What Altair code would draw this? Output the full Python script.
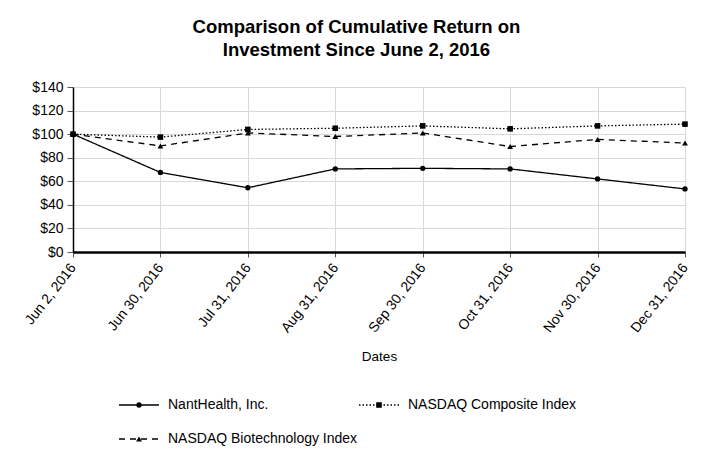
import altair as alt
import pandas as pd

dates = ["Jun 2, 2016", "Jun 30, 2016", "Jul 31, 2016", "Aug 31, 2016",
         "Sep 30, 2016", "Oct 31, 2016", "Nov 30, 2016", "Dec 31, 2016"]
series_names = ["NantHealth, Inc.", "NASDAQ Composite Index", "NASDAQ Biotechnology Index"]
nanthealth = [100, 67.5, 54.5, 70.5, 71.0, 70.5, 62.0, 53.5]
composite = [100, 97.5, 104.0, 105.0, 107.0, 104.5, 107.0, 108.5]
biotech = [100, 90.0, 101.0, 98.0, 101.0, 89.5, 95.5, 92.5]

rows = []
for name, vals in zip(series_names, [nanthealth, composite, biotech]):
    for d, v in zip(dates, vals):
        rows.append({"Date": d, "Series": name, "Value": v})
df = pd.DataFrame(rows)

FONT = "Liberation Sans"
dash_scale = alt.Scale(domain=series_names, range=[[1, 0], [1.5, 2], [6, 5]])
shape_scale = alt.Scale(domain=series_names, range=["circle", "square", "triangle-up"])
size_scale = alt.Scale(domain=series_names, range=[28, 34, 22])

x = alt.X("Date:O", sort=dates, title="Dates",
          scale=alt.Scale(type="point", padding=0),
          axis=alt.Axis(labelAngle=-52, labelFontSize=14, labelFont=FONT,
                        titleFont=FONT, titleFontSize=13.5, titleFontWeight="normal",
                        titlePadding=15, labelPadding=8,
                        domainColor="black", domainWidth=2.5,
                        tickColor="#555", tickSize=5,
                        grid=True, gridColor="#d9d9d9", labelColor="black"))
y = alt.Y("Value:Q", title=None,
          scale=alt.Scale(domain=[0, 140], nice=False),
          axis=alt.Axis(values=list(range(0, 141, 20)), labelExpr="'$' + datum.value",
                        labelFontSize=14, labelFont=FONT, labelColor="black",
                        domainColor="black", domainWidth=1.5,
                        tickColor="#555", tickSize=6, labelPadding=4,
                        gridColor="#d9d9d9"))

base = alt.Chart(df)
lines = base.mark_line(color="black", strokeWidth=1.3).encode(
    x=x, y=y,
    detail="Series:N",
    strokeDash=alt.StrokeDash("Series:N", scale=dash_scale, legend=None),
)
pts = base.mark_point(color="black", filled=True, opacity=1).encode(
    x=x, y=y,
    shape=alt.Shape("Series:N", scale=shape_scale, legend=None),
    size=alt.Size("Series:N", scale=size_scale, legend=None),
)
main = alt.layer(lines, pts).properties(width=612, height=165)

# legend chart
leg_df = pd.DataFrame({"Series": series_names, "idx": list(range(len(series_names)))})
leg_base = alt.Chart(leg_df).transform_calculate(
    row="floor(datum.idx / 2)",
    x0="46 + (datum.idx % 2) * 240",
    x1="86 + (datum.idx % 2) * 240",
    xm="66 + (datum.idx % 2) * 240",
    xt="95 + (datum.idx % 2) * 240",
)
lx = alt.Scale(domain=[0, 612])
ly = alt.Scale(domain=[0, 1], range=[3, 37])
leg_line = leg_base.mark_rule(color="black", strokeWidth=1.5).encode(
    x=alt.X("x0:Q", scale=lx, axis=None), x2="x1:Q",
    y=alt.Y("row:Q", scale=ly, axis=None),
    strokeDash=alt.StrokeDash("Series:N", scale=dash_scale, legend=None),
)
leg_pt = leg_base.mark_point(color="black", filled=True, opacity=1).encode(
    x=alt.X("xm:Q", scale=lx, axis=None),
    y=alt.Y("row:Q", scale=ly, axis=None),
    shape=alt.Shape("Series:N", scale=shape_scale, legend=None),
    size=alt.Size("Series:N", scale=size_scale, legend=None),
)
leg_text = leg_base.mark_text(align="left", baseline="middle", font=FONT, fontSize=14,
                              color="black").encode(
    x=alt.X("xt:Q", scale=lx, axis=None),
    y=alt.Y("row:Q", scale=ly, axis=None),
    text="Series:N",
)
legend = alt.layer(leg_line, leg_pt, leg_text).properties(width=612, height=40)

chart = alt.vconcat(main, legend, spacing=34).properties(
    title=alt.Title(["Comparison of Cumulative Return on", "Investment Since June 2, 2016"],
                    font=FONT, fontSize=18.5, fontWeight="bold", anchor="middle",
                    lineHeight=23, offset=21, color="black"),
    padding={"left": 14, "top": 9, "right": 10, "bottom": 5},
    background="white",
).configure_view(stroke=None)

chart.save("out.html", embed_options={"renderer": "svg", "actions": False})
